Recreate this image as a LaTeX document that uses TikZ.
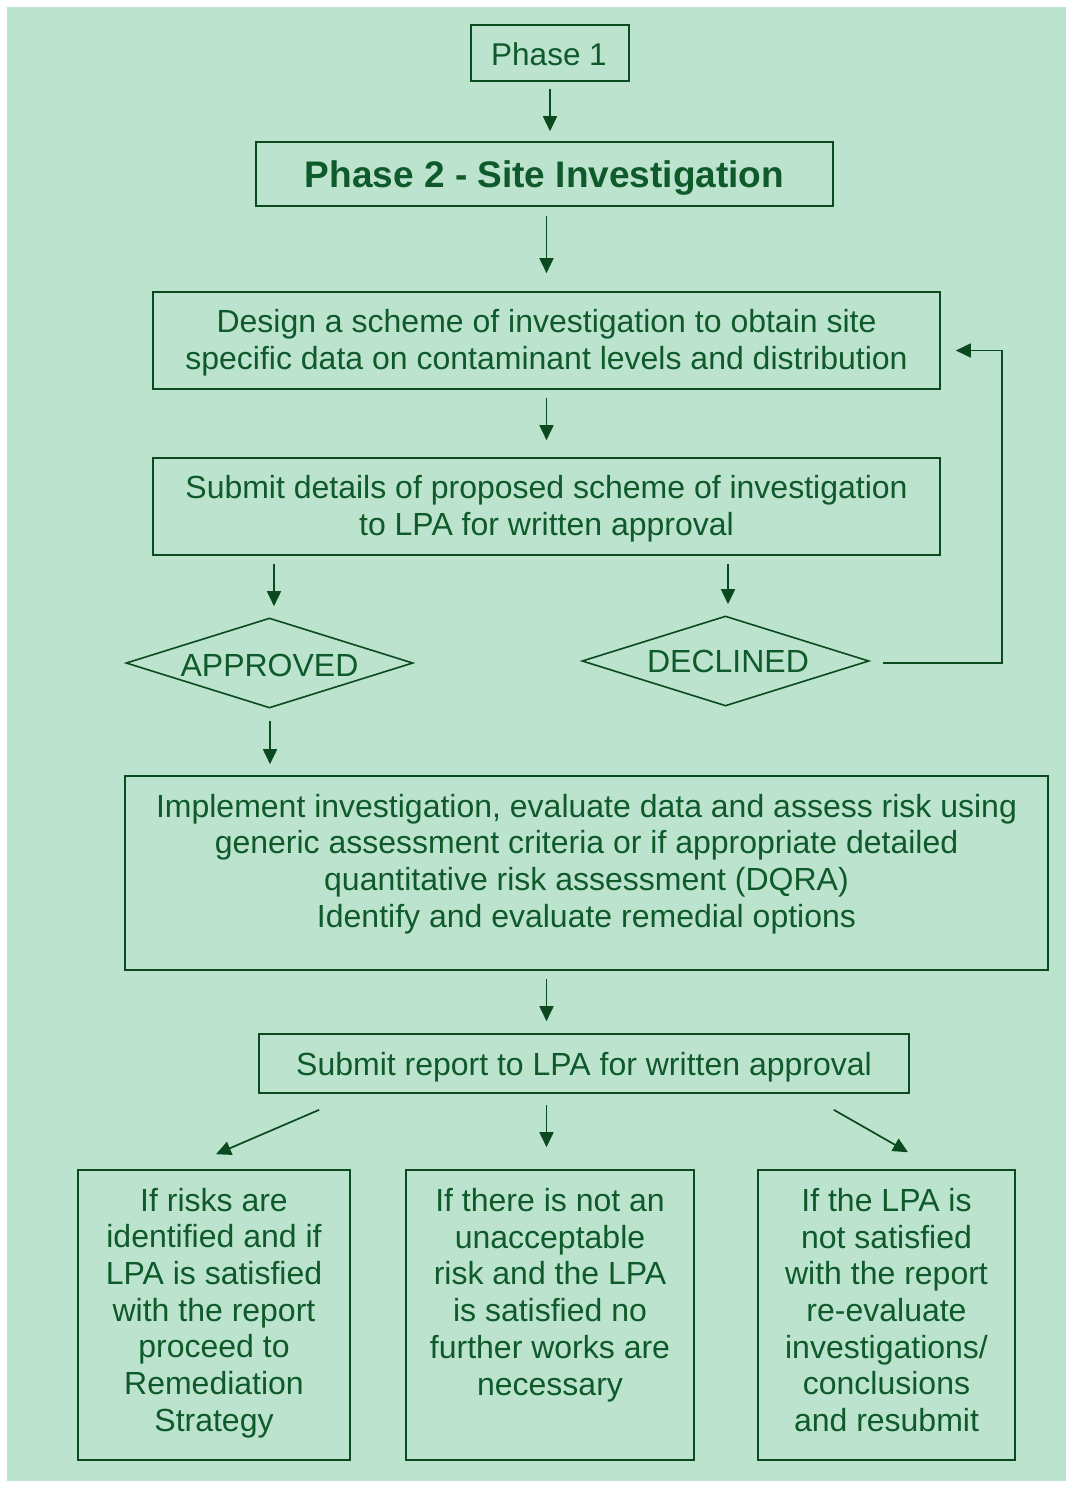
\documentclass[tikz,border=0pt]{standalone}
\usepackage{fontspec}
\setmainfont{Liberation Sans}
\usetikzlibrary{shapes.geometric,arrows.meta}
\definecolor{bgc}{HTML}{BCE3CE}
\definecolor{linec}{HTML}{0B4A1E}
\definecolor{txtc}{HTML}{0F5A2A}
\begin{document}
\begin{tikzpicture}[x=1pt,y=-1pt,
  box/.style={draw=linec,line width=1.6pt,inner sep=0pt},
  txt/.style={text=txtc,align=center,inner sep=0pt,
    font=\fontsize{32}{36.7}\selectfont},
  dia/.style={diamond,draw=linec,line width=1.6pt,inner sep=0pt},
  arr/.style={draw=linec,line width=1.7pt,-{Triangle[length=15pt,width=14pt]}}]
\useasboundingbox (0,0) rectangle (1072,1488);
\fill[bgc] (7,7) rectangle (1066,1481);
\node[box,minimum width=158pt,minimum height=56pt] (p1) at (550,53) {};
\node[txt,font=\fontsize{31.5}{36}\selectfont] (p1t) at (549,54) {Phase 1};
\node[box,minimum width=577pt,minimum height=64pt] (p2) at (544.5,174) {};
\node[txt,font=\fontsize{37}{40}\selectfont\bfseries] (p2t) at (544.5,178) {Phase 2 - Site Investigation};
\node[box,minimum width=787pt,minimum height=97pt] (design) at (546.5,340.5) {};
\node[txt] (designt) at (546.5,343) {Design a scheme of investigation to obtain site\\specific data on contaminant levels and distribution};
\node[box,minimum width=787pt,minimum height=97pt] (submit) at (546.5,506.5) {};
\node[txt] (submitt) at (546.5,509) {Submit details of proposed scheme of investigation\\to LPA for written approval};
\node[dia,minimum width=287pt,minimum height=90pt] (appr) at (269.5,663) {};
\node[txt] (apprt) at (269.5,665) {APPROVED};
\node[dia,minimum width=287pt,minimum height=90pt] (decl) at (725.5,661) {};
\node[txt] (declt) at (728,661) {DECLINED};
\node[box,minimum width=923pt,minimum height=194pt] (impl) at (586.5,873) {};
\node[txt] (implt) at (586.5,864) {Implement investigation, evaluate data and assess risk using\\generic assessment criteria or if appropriate detailed\\quantitative risk assessment (DQRA)\\Identify and evaluate remedial options};
\node[box,minimum width=650pt,minimum height=59pt] (report) at (584,1063.5) {};
\node[txt] (reportt) at (584,1067) {Submit report to LPA for written approval};
\node[box,minimum width=272pt,minimum height=290pt] (left) at (214,1315) {};
\node[txt] (leftt) at (214,1313) {If risks are\\identified and if\\LPA is satisfied\\with the report\\proceed to\\Remediation\\Strategy};
\node[box,minimum width=288pt,minimum height=290pt] (mid) at (550,1315) {};
\node[txt] (midt) at (550,1295) {If there is not an\\unacceptable\\risk and the LPA\\is satisfied no\\further works are\\necessary};
\node[box,minimum width=257pt,minimum height=290pt] (right) at (886.5,1315) {};
\node[txt] (rightt) at (886.5,1310) {If the LPA is\\not satisfied\\with the report\\re-evaluate\\investigations/\\conclusions\\and resubmit};
% connectors
\draw[arr] ([yshift=-7pt]p1.south) -- ([yshift=10pt]p1.south |- p2.north);
\draw[arr] ([yshift=-9pt]p2.south -| design.north) -- ([yshift=18pt]design.north);
\draw[arr] ([yshift=-8pt]design.south) -- ([yshift=17pt]submit.north);
\draw[arr] ([yshift=-8pt]submit.south -| 274,0) -- ([yshift=11pt]appr.north -| 274,0);
\draw[arr] ([yshift=-8pt]submit.south -| 728,0) -- ([yshift=11pt]decl.north -| 728,0);
\draw[arr] ([xshift=13pt,yshift=-2pt]decl.east) -- ++(119,0) |- ([xshift=15pt,yshift=-10pt]design.east);
\draw[arr] ([yshift=-12pt]appr.south -| 270,0) -- ([yshift=11pt]impl.north -| 270,0);
\draw[arr] ([yshift=-8pt]impl.south -| design.south) -- ([yshift=12pt]report.north -| design.south);
\draw[arr] ([shift={(61,16)}]report.south west) -- ([xshift=2pt,yshift=15pt]left.north);
\draw[arr] ([yshift=-11pt]report.south -| design.south) -- ([yshift=22pt]mid.north -| design.south);
\draw[arr] ([shift={(-76,16)}]report.south east) -- ([xshift=21.5pt,yshift=17pt]right.north);
\end{tikzpicture}
\end{document}
